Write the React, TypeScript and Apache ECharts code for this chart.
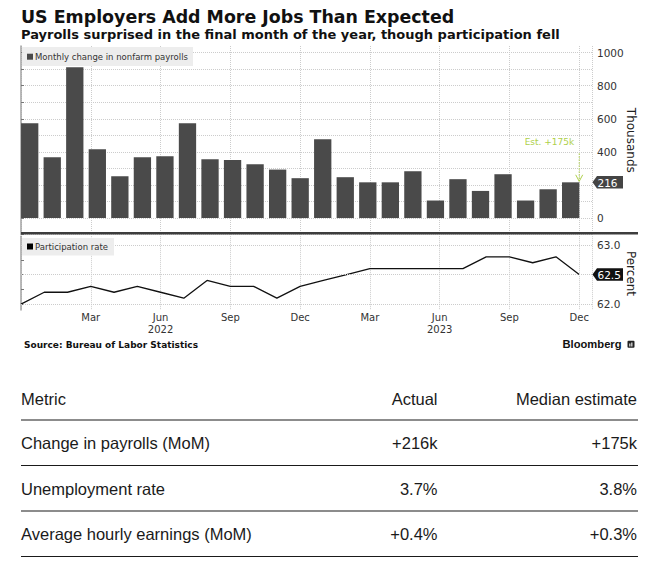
import React, { useEffect, useRef } from 'react';
import * as echarts from 'echarts';

// ---------- DATA ----------
const barCategories = [
  'Dec 2021', 'Jan 2022', 'Feb 2022', 'Mar 2022', 'Apr 2022', 'May 2022', 'Jun 2022', 'Jul 2022',
  'Aug 2022', 'Sep 2022', 'Oct 2022', 'Nov 2022', 'Dec 2022', 'Jan 2023', 'Feb 2023', 'Mar 2023',
  'Apr 2023', 'May 2023', 'Jun 2023', 'Jul 2023', 'Aug 2023', 'Sep 2023', 'Oct 2023', 'Nov 2023', 'Dec 2023',
];
const payrolls = [573, 367, 911, 416, 253, 367, 373, 573, 355, 351, 325, 293, 241, 476, 247, 216, 216, 283, 106, 235, 164, 265, 106, 174, 216];
const monthIndex = [0, 1, 2, 3, 4, 5, 6, 7, 8, 9, 10, 11, 12, 13, 14, 15, 16, 17, 18, 19, 20, 21, 22, 23, 24];
const participation = [62.0, 62.2, 62.2, 62.3, 62.2, 62.3, 62.2, 62.1, 62.4, 62.3, 62.3, 62.1, 62.3, 62.4, 62.5, 62.6, 62.6, 62.6, 62.6, 62.6, 62.8, 62.8, 62.7, 62.8, 62.5];
const estimate = 175;

const tickMonths = [3, 6, 9, 12, 15, 18, 21, 24];
const tickLabels = ['Mar', 'Jun\n2022', 'Sep', 'Dec', 'Mar', 'Jun\n2023', 'Sep', 'Dec'];
const payrollTicks = [-100, 0, 100, 200, 300, 400, 500, 600, 700, 800, 900, 1000];
const payrollLabels = [0, 400, 600, 800, 1000];
const rateTicks = [62.0, 62.25, 62.5, 62.75, 63.0];
const rateLabels = [62.0, 63.0];
const rateGrid = [62.0, 62.5, 63.0];

const tableHeaders = ['Metric', 'Actual', 'Median estimate'];
const tableMetrics = ['Change in payrolls (MoM)', 'Unemployment rate', 'Average hourly earnings (MoM)'];
const tableActual = ['+216k', '3.7%', '+0.4%'];
const tableEstimate = ['+175k', '3.8%', '+0.3%'];

// ---------- LAYOUT ----------
const GRID_L = 21;
const GRID_W = 571;
const AXIS_X = GRID_L + GRID_W;
const TOP_T = 46;
const TOP_H = 188.6;
const BOT_T = 236.2;
const BOT_H = 73.75;
const BAR_L = 18.43;
const BAR_W = 563.5;

const SANS = 'DejaVu Sans';
const ARIAL = 'Liberation Sans';
const GREEN = '#aed04a';
const GRIDC = '#cccccc';

function txt(text: string, x: number, y: number, o: any = {}) {
  return {
    type: 'text', x, y, z: 20, silent: true, rotation: o.rotation || 0,
    style: {
      text, fill: o.fill || '#222', fontSize: o.size || 12, fontFamily: o.family || SANS,
      fontWeight: o.weight || 'normal', align: o.align || 'left', verticalAlign: 'middle',
    },
  };
}

export default function App() {
  const ref = useRef<HTMLDivElement>(null);

  useEffect(() => {
    const chart = echarts.init(ref.current!, null, { renderer: 'svg' });
    const option: any = {
      animation: false,
      backgroundColor: '#ffffff',
      grid: [
        { left: GRID_L, top: TOP_T, width: GRID_W, height: TOP_H, outerBoundsMode: 'none' },
        { left: BAR_L, top: TOP_T, width: BAR_W, height: TOP_H, outerBoundsMode: 'none' },
        { left: GRID_L, top: BOT_T, width: GRID_W, height: BOT_H, outerBoundsMode: 'none' },
      ],
      xAxis: [
        {
          gridIndex: 0, type: 'value', min: 0, max: 24.55, interval: 3,
          axisLine: { show: false }, axisTick: { show: false }, axisLabel: { show: false },
          splitLine: { show: true, lineStyle: { type: 'dotted', color: GRIDC, width: 1 } },
        },
        {
          gridIndex: 1, type: 'category', data: barCategories, show: false,
        },
        {
          gridIndex: 2, type: 'value', min: 0, max: 24.55, interval: 3,
          axisLine: { show: false }, axisTick: { show: false },
          splitLine: { show: true, lineStyle: { type: 'dotted', color: GRIDC, width: 1 } },
          axisLabel: {
            customValues: tickMonths, margin: 2, fontSize: 10, lineHeight: 12,
            fontFamily: SANS, color: '#333',
            formatter: (v: number) => {
              const i = tickMonths.indexOf(v);
              return i >= 0 ? tickLabels[i] : '';
            },
          },
        },
      ],
      yAxis: [
        {
          gridIndex: 0, type: 'value', position: 'right', min: -100, max: 1040, splitNumber: 5,
          axisLine: { show: true, lineStyle: { color: '#a3a3a3', width: 1.5 } },
          axisTick: { show: true, customValues: payrollTicks, length: 3, lineStyle: { color: '#777' } },
          axisLabel: {
            customValues: payrollLabels, margin: 5, fontSize: 10.5, fontFamily: SANS, color: '#333',
            formatter: (v: number) => String(v),
          },
          splitLine: { show: true, lineStyle: { type: 'dotted', color: GRIDC, width: 1 } },
        },
        {
          gridIndex: 1, type: 'value', min: -100, max: 1040, show: false, splitLine: { show: false },
        },
        {
          gridIndex: 2, type: 'value', position: 'right', min: 61.9, max: 63.15,
          axisLine: { show: true, lineStyle: { color: '#a3a3a3', width: 1.5 } },
          axisTick: { show: true, customValues: rateTicks, length: 3, lineStyle: { color: '#777' } },
          axisLabel: {
            customValues: rateLabels, margin: 5, fontSize: 10.5, fontFamily: SANS, color: '#333',
            formatter: (v: number) => v.toFixed(1),
          },
          splitLine: { show: false },
        },
      ],
      series: [
        {
          type: 'bar', name: 'Monthly change in nonfarm payrolls', xAxisIndex: 1, yAxisIndex: 1,
          data: payrolls, barWidth: 17.3, itemStyle: { color: '#4a4a4a' }, silent: true,
        },
        {
          type: 'line', name: 'Participation rate', xAxisIndex: 2, yAxisIndex: 2,
          data: participation.map((v, i) => [monthIndex[i], v]),
          symbol: 'none', lineStyle: { color: '#111', width: 1.3 }, silent: true,
          markLine: {
            silent: true, symbol: ['none', 'none'], label: { show: false },
            lineStyle: { type: 'dotted', color: GRIDC, width: 1 },
            data: rateGrid.map((v) => ({ yAxis: v })),
          },
        },
      ],
    };
    chart.setOption(option);

    const lastBar = payrolls[payrolls.length - 1];
    const lastRate = participation[participation.length - 1];
    const yBar = chart.convertToPixel({ yAxisIndex: 0 } as any, lastBar) as number;
    const yRate = chart.convertToPixel({ yAxisIndex: 2 } as any, lastRate) as number;
    const xDec = chart.convertToPixel({ xAxisIndex: 0 } as any, monthIndex[monthIndex.length - 1]) as number;

    const tag = (y: number, color: string, label: string) => [
      {
        type: 'polygon', z: 20, silent: true,
        shape: { points: [[AXIS_X + 0.5, y], [AXIS_X + 5, y - 6.3], [AXIS_X + 31, y - 6.3], [AXIS_X + 31, y + 6.3], [AXIS_X + 5, y + 6.3]] },
        style: { fill: color },
      },
      txt(label, AXIS_X + 5.5, y + 0.3, { fill: '#fff', size: 10.5 }),
    ];

    const rowLines = [420, 465.5, 511, 556.5];
    const rowY = [398.6, 443, 488.5, 534];
    const tableEls: any[] = [];
    rowLines.forEach((ly) => {
      tableEls.push({
        type: 'line', z: 20, silent: true,
        shape: { x1: 21, y1: ly, x2: 638, y2: ly },
        style: { stroke: '#1a1a1a', lineWidth: 1.2 },
      });
    });
    tableEls.push(txt(tableHeaders[0], 21, rowY[0], { family: ARIAL, size: 16.5, fill: '#1a1a1a' }));
    tableEls.push(txt(tableHeaders[1], 437.5, rowY[0], { family: ARIAL, size: 16.5, fill: '#1a1a1a', align: 'right' }));
    tableEls.push(txt(tableHeaders[2], 637, rowY[0], { family: ARIAL, size: 16.5, fill: '#1a1a1a', align: 'right' }));
    tableMetrics.forEach((m, i) => {
      tableEls.push(txt(m, 21, rowY[i + 1], { family: ARIAL, size: 16.5, fill: '#1a1a1a' }));
      tableEls.push(txt(tableActual[i], 437.5, rowY[i + 1], { family: ARIAL, size: 16.5, fill: '#1a1a1a', align: 'right' }));
      tableEls.push(txt(tableEstimate[i], 637, rowY[i + 1], { family: ARIAL, size: 16.5, fill: '#1a1a1a', align: 'right' }));
    });

    const graphics: any[] = [
      txt('US Employers Add More Jobs Than Expected', 21, 17, { size: 17.4, weight: 'bold', fill: '#111' }),
      txt('Payrolls surprised in the final month of the year, though participation fell', 21, 34, { size: 13, weight: 'bold', fill: '#111' }),
      // legends
      { type: 'rect', z: 15, silent: true, shape: { x: 22, y: 47, width: 171, height: 19 }, style: { fill: 'rgba(236,236,236,0.95)' } },
      { type: 'rect', z: 16, silent: true, shape: { x: 27, y: 53.7, width: 6, height: 6 }, style: { fill: '#4a4a4a' } },
      txt('Monthly change in nonfarm payrolls', 35, 56.8, { size: 8.5, fill: '#333' }),
      { type: 'rect', z: 15, silent: true, shape: { x: 22, y: 238, width: 92, height: 17.5 }, style: { fill: 'rgba(236,236,236,0.95)' } },
      { type: 'rect', z: 16, silent: true, shape: { x: 27, y: 243.5, width: 6, height: 6 }, style: { fill: '#000' } },
      txt('Participation rate', 35, 246.6, { size: 8.5, fill: '#333' }),
      // separator
      {
        type: 'line', z: 18, silent: true,
        shape: { x1: 21, y1: 233.3, x2: 638, y2: 233.3 },
        style: { stroke: '#3d3d3d', lineWidth: 2.5 },
      },
      // axis titles
      txt('Thousands', 631, TOP_T + TOP_H / 2, { size: 12, rotation: -Math.PI / 2, align: 'center', fill: '#222' }),
      txt('Percent', 631, 273.5, { size: 12, rotation: -Math.PI / 2, align: 'center', fill: '#222' }),
      // last value tags
      ...tag(yBar, '#444444', String(lastBar)),
      ...tag(yRate, '#111111', lastRate.toFixed(1)),
      // estimate annotation
      {
        type: 'line', z: 20, silent: true,
        shape: { x1: xDec, y1: yBar - 29, x2: xDec, y2: yBar - 1 },
        style: { stroke: GREEN, lineWidth: 1, lineDash: [1.5, 1.5] },
      },
      {
        type: 'polyline', z: 20, silent: true,
        shape: { points: [[xDec - 3.5, yBar - 7.5], [xDec, yBar - 1], [xDec + 3.5, yBar - 7.5]] },
        style: { stroke: GREEN, lineWidth: 1, fill: 'none' },
      },
      txt('Est. +' + estimate + 'k', xDec - 5, yBar - 40, { size: 9, fill: GREEN, align: 'right' }),
      // footer
      txt('Source: Bureau of Labor Statistics', 24, 344.8, { size: 9, weight: 'bold', fill: '#111' }),
      txt('Bloomberg', 562.5, 344.3, { size: 11.2, weight: 'bold', family: ARIAL, fill: '#111' }),
      { type: 'rect', z: 20, silent: true, shape: { x: 627.5, y: 340.8, width: 7, height: 7, r: 1 }, style: { fill: '#222' } },
      { type: 'rect', z: 21, silent: true, shape: { x: 629.3, y: 343.6, width: 1.1, height: 3 }, style: { fill: '#fff' } },
      { type: 'rect', z: 21, silent: true, shape: { x: 631.3, y: 342.4, width: 1.1, height: 4.2 }, style: { fill: '#fff' } },
      ...tableEls,
    ];
    chart.setOption({ graphic: graphics });

    return () => chart.dispose();
  }, []);

  return (
    <div
      ref={ref}
      style={{ position: 'fixed', left: 0, top: 0, width: 665, height: 566, background: '#fff' }}
    />
  );
}
